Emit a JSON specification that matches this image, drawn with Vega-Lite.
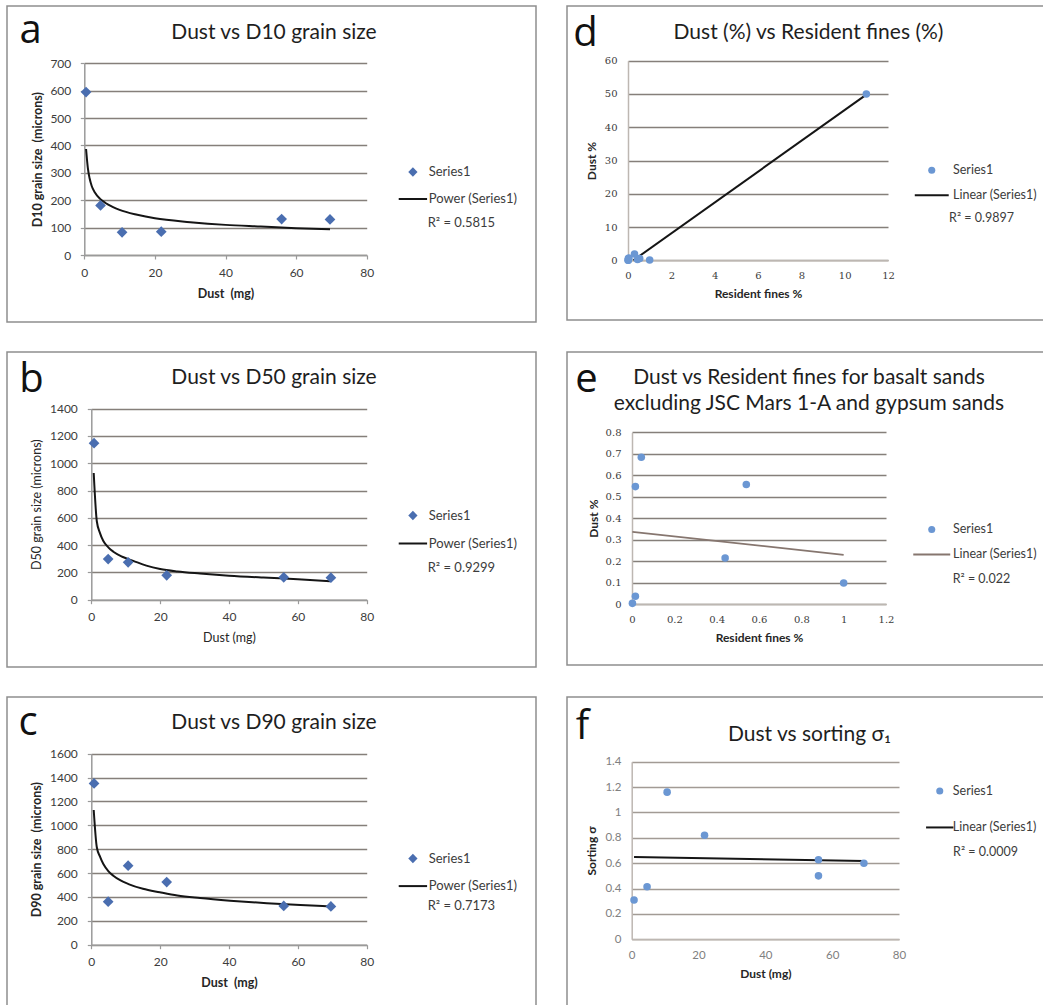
{
"$schema": "https://vega.github.io/schema/vega-lite/v6.json",
"background": "white",
"padding": {"left": 6, "top": 5, "right": 0, "bottom": 0},
"config": {
 "font": "Lato",
 "view": {"stroke": "#8e8e8e", "strokeWidth": 1.5},
 "title": {"font": "Lato", "fontSize": 21, "fontWeight": "normal", "color": "#1e1e1e", "anchor": "middle", "frame": "group", "baseline": "alphabetic"},
 "axis": {"labelFont": "Lato", "labelFontSize": 12, "labelColor": "#3c3c3c", "titleFont": "Lato", "titleFontSize": 12.5, "titleFontWeight": "bold", "titleColor": "#262626", "domainColor": "#9a9a9a", "domainWidth": 1.5, "tickColor": "#9a9a9a", "tickWidth": 1.2, "gridColor": "#857f7a", "gridWidth": 1.6, "gridOpacity": 1, "labelFlush": false, "labelOverlap": false},
 "legend": {"labelFont": "Lato", "labelFontSize": 13, "labelColor": "#3c3c3c", "titleFont": "Lato", "titleFontSize": 13, "titleFontWeight": "normal", "titleColor": "#3c3c3c", "symbolStrokeWidth": 2, "symbolOpacity": 1, "labelLimit": 220, "titleLimit": 220}
},
"spacing": 29,
"resolve": {"scale": {"shape": "independent", "fill": "independent", "stroke": "independent"}, "legend": {"shape": "independent", "fill": "independent", "stroke": "independent"}},
"hconcat": [
{"vconcat": [
 {
  "width": 529, "height": 316,
  "title": {"text": "Dust vs D10 grain size", "offset": -37.2, "dx": 2.5},
  "layer": [
   {"data": {"values": [{"dust":0.5,"size":387},{"dust":1,"size":318},{"dust":1.5,"size":280},{"dust":2.1,"size":252},{"dust":3,"size":228},{"dust":4.4,"size":206},{"dust":6,"size":190},{"dust":8,"size":176},{"dust":10,"size":165},{"dust":15,"size":147},{"dust":20,"size":134},{"dust":30,"size":120},{"dust":40,"size":110},{"dust":50,"size":104},{"dust":60,"size":98},{"dust":69.6,"size":94}]},
    "mark": {"type": "line", "color": "#151515", "strokeWidth": 2, "interpolate": "monotone"},
    "encoding": {
     "x": {"field": "dust", "type": "quantitative", "scale": {"domain": [0, 80], "range": [77.3, 359.7], "nice": false, "zero": false},
       "axis": {"orient": "bottom", "offset": -67, "values": [0,20,40,60,80], "title": "Dust\u00a0 (mg)", "grid": false, "tickSize": 4, "labelPadding": 8, "titlePadding": 9}},
     "y": {"field": "size", "type": "quantitative", "scale": {"domain": [0, 700], "range": [249, 57.3], "nice": false, "zero": false},
       "axis": {"orient": "left", "offset": -77.3, "values": [0,100,200,300,400,500,600,700], "format": "d", "title": "D10 grain size\u00a0 (microns)", "grid": true, "tickSize": 4, "labelPadding": 9.5, "titlePadding": 5}}
    }},
   {"data": {"values": [{"dust":0.5,"size":595,"series":"Series1"},{"dust":4.6,"size":181,"series":"Series1"},{"dust":10.7,"size":83,"series":"Series1"},{"dust":21.8,"size":85,"series":"Series1"},{"dust":55.9,"size":131,"series":"Series1"},{"dust":69.6,"size":130,"series":"Series1"}]},
    "mark": {"type": "point", "filled": true, "size": 115, "opacity": 1},
    "encoding": {
     "x": {"field": "dust", "type": "quantitative", "axis": {"orient": "top", "title": "a", "domain": false, "ticks": false, "labels": false, "grid": false, "titleX": 23, "titleY": 36, "titleFont": "Open Sans", "titleFontSize": 40, "titleFontWeight": "normal", "titleColor": "#111111", "titleAlign": "center", "titleBaseline": "alphabetic", "titleAngle": 0}},
     "y": {"field": "size", "type": "quantitative",
       "axis": {"orient": "left", "offset": -77.3, "values": [0,100,200,300,400,500,600,700], "format": "d", "title": "D10 grain size\u00a0 (microns)", "grid": true, "tickSize": 4, "labelPadding": 9.5, "titlePadding": 5}},
     "shape": {"field": "series", "type": "nominal", "scale": {"domain": ["Series1", "Power (Series1)"], "range": ["diamond", "M-3.06,0L3.06,0"]},
       "legend": {"orient": "none", "legendX": 399.4, "legendY": 159.5, "title": "R² = 0.5815", "titleOrient": "bottom", "titleAnchor": "middle", "titlePadding": 10, "rowPadding": 11, "symbolSize": 86, "labelOffset": 9.3}},
     "fill": {"field": "series", "type": "nominal", "scale": {"domain": ["Series1", "Power (Series1)"], "range": ["#4a6eb0", "transparent"]},
       "legend": {"orient": "none", "legendX": 399.4, "legendY": 159.5, "title": "R² = 0.5815", "titleOrient": "bottom", "titleAnchor": "middle", "titlePadding": 10, "rowPadding": 11, "symbolSize": 86, "labelOffset": 9.3}},
     "stroke": {"field": "series", "type": "nominal", "scale": {"domain": ["Series1", "Power (Series1)"], "range": ["transparent", "#151515"]},
       "legend": {"orient": "none", "legendX": 399.4, "legendY": 159.5, "title": "R² = 0.5815", "titleOrient": "bottom", "titleAnchor": "middle", "titlePadding": 10, "rowPadding": 11, "symbolSize": 86, "labelOffset": 9.3}}
    }}
  ]
 },
 {
  "width": 529, "height": 315,
  "title": {"text": "Dust vs D50 grain size", "offset": -35.5, "dx": 2.5},
  "layer": [
   {"data": {"values": [{"dust":0.7,"size":929},{"dust":1.6,"size":575},{"dust":2.5,"size":490},{"dust":3.5,"size":430},{"dust":5,"size":382},{"dust":6.4,"size":352},{"dust":9,"size":315},{"dust":12.2,"size":285},{"dust":16,"size":250},{"dust":20,"size":225},{"dust":25,"size":207},{"dust":31.6,"size":192},{"dust":40,"size":176},{"dust":50,"size":162},{"dust":60,"size":150},{"dust":69.4,"size":136}]},
    "mark": {"type": "line", "color": "#151515", "strokeWidth": 2, "interpolate": "monotone"},
    "encoding": {
     "x": {"field": "dust", "type": "quantitative", "scale": {"domain": [0, 80], "range": [84.3, 359.7], "nice": false, "zero": false},
       "axis": {"orient": "bottom", "offset": -67.3, "values": [0,20,40,60,80], "title": "Dust (mg)", "titleFontWeight": "normal", "grid": false, "tickSize": 4, "labelPadding": 8, "titlePadding": 9}},
     "y": {"field": "size", "type": "quantitative", "scale": {"domain": [0, 1400], "range": [247.7, 56.7], "nice": false, "zero": false},
       "axis": {"orient": "left", "offset": -84.3, "values": [0,200,400,600,800,1000,1200,1400], "format": "d", "title": "D50 grain size (microns)", "titleFontWeight": "normal", "grid": true, "tickSize": 4, "labelPadding": 10, "titlePadding": 6}}
    }},
   {"data": {"values": [{"dust":0.8,"size":1147,"series":"Series1"},{"dust":4.9,"size":298,"series":"Series1"},{"dust":10.7,"size":274,"series":"Series1"},{"dust":21.9,"size":179,"series":"Series1"},{"dust":55.9,"size":164,"series":"Series1"},{"dust":69.6,"size":161,"series":"Series1"}]},
    "mark": {"type": "point", "filled": true, "size": 115, "opacity": 1},
    "encoding": {
     "x": {"field": "dust", "type": "quantitative", "axis": {"orient": "top", "title": "b", "domain": false, "ticks": false, "labels": false, "grid": false, "titleX": 24, "titleY": 39, "titleFont": "Open Sans", "titleFontSize": 40, "titleFontWeight": "normal", "titleColor": "#111111", "titleAlign": "center", "titleBaseline": "alphabetic", "titleAngle": 0}},
     "y": {"field": "size", "type": "quantitative",
       "axis": {"orient": "left", "offset": -84.3, "values": [0,200,400,600,800,1000,1200,1400], "format": "d", "title": "D50 grain size (microns)", "titleFontWeight": "normal", "grid": true, "tickSize": 4, "labelPadding": 10, "titlePadding": 6}},
     "shape": {"field": "series", "type": "nominal", "scale": {"domain": ["Series1", "Power (Series1)"], "range": ["diamond", "M-3.06,0L3.06,0"]},
       "legend": {"orient": "none", "legendX": 399.4, "legendY": 157, "title": "R² = 0.9299", "titleOrient": "bottom", "titleAnchor": "middle", "titlePadding": 11.4, "rowPadding": 12, "symbolSize": 86, "labelOffset": 9.3}},
     "fill": {"field": "series", "type": "nominal", "scale": {"domain": ["Series1", "Power (Series1)"], "range": ["#4a6eb0", "transparent"]},
       "legend": {"orient": "none", "legendX": 399.4, "legendY": 157, "title": "R² = 0.9299", "titleOrient": "bottom", "titleAnchor": "middle", "titlePadding": 11.4, "rowPadding": 12, "symbolSize": 86, "labelOffset": 9.3}},
     "stroke": {"field": "series", "type": "nominal", "scale": {"domain": ["Series1", "Power (Series1)"], "range": ["transparent", "#151515"]},
       "legend": {"orient": "none", "legendX": 399.4, "legendY": 157, "title": "R² = 0.9299", "titleOrient": "bottom", "titleAnchor": "middle", "titlePadding": 11.4, "rowPadding": 12, "symbolSize": 86, "labelOffset": 9.3}}
    }}
  ]
 },
 {
  "width": 529, "height": 311,
  "title": {"text": "Dust vs D90 grain size", "offset": -36.2, "dx": 2.5},
  "layer": [
   {"data": {"values": [{"dust":0.7,"size":1128},{"dust":1.6,"size":816},{"dust":2.5,"size":740},{"dust":3.5,"size":676},{"dust":5,"size":615},{"dust":6.4,"size":578},{"dust":8.5,"size":538},{"dust":10.8,"size":508},{"dust":15,"size":468},{"dust":19.9,"size":439},{"dust":25,"size":412},{"dust":31.6,"size":391},{"dust":40.3,"size":369},{"dust":51,"size":347},{"dust":60.7,"size":332},{"dust":69.4,"size":321}]},
    "mark": {"type": "line", "color": "#151515", "strokeWidth": 2, "interpolate": "monotone"},
    "encoding": {
     "x": {"field": "dust", "type": "quantitative", "scale": {"domain": [0, 80], "range": [84.3, 359.7], "nice": false, "zero": false},
       "axis": {"orient": "bottom", "offset": -63.3, "values": [0,20,40,60,80], "title": "Dust\u00a0 (mg)", "grid": false, "tickSize": 4, "labelPadding": 8, "titlePadding": 9}},
     "y": {"field": "size", "type": "quantitative", "scale": {"domain": [0, 1600], "range": [247.7, 56.7], "nice": false, "zero": false},
       "axis": {"orient": "left", "offset": -84.3, "values": [0,200,400,600,800,1000,1200,1400,1600], "format": "d", "title": "D90 grain size\u00a0 (microns)", "grid": true, "tickSize": 4, "labelPadding": 10, "titlePadding": 6}}
    }},
   {"data": {"values": [{"dust":0.8,"size":1351,"series":"Series1"},{"dust":4.9,"size":360,"series":"Series1"},{"dust":10.7,"size":662,"series":"Series1"},{"dust":21.9,"size":525,"series":"Series1"},{"dust":55.9,"size":325,"series":"Series1"},{"dust":69.6,"size":321,"series":"Series1"}]},
    "mark": {"type": "point", "filled": true, "size": 115, "opacity": 1},
    "encoding": {
     "x": {"field": "dust", "type": "quantitative", "axis": {"orient": "top", "title": "c", "domain": false, "ticks": false, "labels": false, "grid": false, "titleX": 20.5, "titleY": 37, "titleFont": "Open Sans", "titleFontSize": 40, "titleFontWeight": "normal", "titleColor": "#111111", "titleAlign": "center", "titleBaseline": "alphabetic", "titleAngle": 0}},
     "y": {"field": "size", "type": "quantitative",
       "axis": {"orient": "left", "offset": -84.3, "values": [0,200,400,600,800,1000,1200,1400,1600], "format": "d", "title": "D90 grain size\u00a0 (microns)", "grid": true, "tickSize": 4, "labelPadding": 10, "titlePadding": 6}},
     "shape": {"field": "series", "type": "nominal", "scale": {"domain": ["Series1", "Power (Series1)"], "range": ["diamond", "M-3.06,0L3.06,0"]},
       "legend": {"orient": "none", "legendX": 399.4, "legendY": 155, "title": "R² = 0.7173", "titleOrient": "bottom", "titleAnchor": "middle", "titlePadding": 7, "rowPadding": 11.6, "symbolSize": 86, "labelOffset": 9.3}},
     "fill": {"field": "series", "type": "nominal", "scale": {"domain": ["Series1", "Power (Series1)"], "range": ["#4a6eb0", "transparent"]},
       "legend": {"orient": "none", "legendX": 399.4, "legendY": 155, "title": "R² = 0.7173", "titleOrient": "bottom", "titleAnchor": "middle", "titlePadding": 7, "rowPadding": 11.6, "symbolSize": 86, "labelOffset": 9.3}},
     "stroke": {"field": "series", "type": "nominal", "scale": {"domain": ["Series1", "Power (Series1)"], "range": ["transparent", "#151515"]},
       "legend": {"orient": "none", "legendX": 399.4, "legendY": 155, "title": "R² = 0.7173", "titleOrient": "bottom", "titleAnchor": "middle", "titlePadding": 7, "rowPadding": 11.6, "symbolSize": 86, "labelOffset": 9.3}}
    }}
  ]
 }
], "spacing": 28, "resolve": {"scale": {"shape": "independent", "fill": "independent", "stroke": "independent"}, "legend": {"shape": "independent", "fill": "independent", "stroke": "independent"}}},
{"vconcat": [
 {
  "width": 477, "height": 314,
  "title": {"text": "Dust (%) vs Resident fines (%)", "offset": -37.2, "dx": 3},
  "layer": [
   {"data": {"values": [{"fines":0.25,"dustpct":0},{"fines":11,"dustpct":49.8}]},
    "mark": {"type": "line", "color": "#151515", "strokeWidth": 2},
    "encoding": {
     "x": {"field": "fines", "type": "quantitative", "scale": {"domain": [0, 12], "range": [61, 321], "nice": false, "zero": false},
       "axis": {"orient": "bottom", "offset": -59.7, "values": [0,2,4,6,8,10,12], "title": "Resident fines %", "titleFontSize": 12, "grid": false, "ticks": false, "labelPadding": 10, "titlePadding": 8, "labelFont": "DejaVu Serif", "labelFontSize": 10, "domainColor": "#bdb7b2"}},
     "y": {"field": "dustpct", "type": "quantitative", "scale": {"domain": [0, 60], "range": [254.3, 54.7], "nice": false, "zero": false},
       "axis": {"orient": "left", "offset": -61, "values": [0,10,20,30,40,50,60], "title": "Dust %", "titleFontSize": 12, "grid": true, "ticks": false, "labelPadding": 11, "titlePadding": 6, "labelFont": "DejaVu Serif", "labelFontSize": 10, "domainColor": "#bdb7b2"}}
    }},
   {"data": {"values": [{"fines":0.002,"dustpct":0.003,"series":"Series1"},{"fines":0.016,"dustpct":0.036,"series":"Series1"},{"fines":0.016,"dustpct":0.547,"series":"Series1"},{"fines":0.044,"dustpct":0.684,"series":"Series1"},{"fines":0.44,"dustpct":0.214,"series":"Series1"},{"fines":0.54,"dustpct":0.557,"series":"Series1"},{"fines":1.0,"dustpct":0.098,"series":"Series1"},{"fines":0.3,"dustpct":1.9,"series":"Series1"},{"fines":11.0,"dustpct":50.0,"series":"Series1"}]},
    "mark": {"type": "point", "filled": true, "size": 57, "opacity": 1},
    "encoding": {
     "x": {"field": "fines", "type": "quantitative", "axis": {"orient": "top", "title": "d", "domain": false, "ticks": false, "labels": false, "grid": false, "titleX": 18, "titleY": 39.7, "titleFont": "Open Sans", "titleFontSize": 40, "titleFontWeight": "normal", "titleColor": "#111111", "titleAlign": "center", "titleBaseline": "alphabetic", "titleAngle": 0}},
     "y": {"field": "dustpct", "type": "quantitative",
       "axis": {"orient": "left", "offset": -61, "values": [0,10,20,30,40,50,60], "title": "Dust %", "titleFontSize": 12, "grid": true, "ticks": false, "labelPadding": 11, "titlePadding": 6, "labelFont": "DejaVu Serif", "labelFontSize": 10, "domainColor": "#bdb7b2"}},
     "shape": {"field": "series", "type": "nominal", "scale": {"domain": ["Series1", "Linear (Series1)"], "range": ["circle", "M-4.8,0L4.8,0"]},
       "legend": {"orient": "none", "legendX": 358.5, "legendY": 158, "title": "R² = 0.9897", "titleOrient": "bottom", "titleAnchor": "middle", "titlePadding": 10, "rowPadding": 11, "symbolSize": 50, "labelOffset": 15, "labelFontSize": 12.5, "titleFontSize": 12.5}},
     "fill": {"field": "series", "type": "nominal", "scale": {"domain": ["Series1", "Linear (Series1)"], "range": ["#6b97d3", "transparent"]},
       "legend": {"orient": "none", "legendX": 358.5, "legendY": 158, "title": "R² = 0.9897", "titleOrient": "bottom", "titleAnchor": "middle", "titlePadding": 10, "rowPadding": 11, "symbolSize": 50, "labelOffset": 15, "labelFontSize": 12.5, "titleFontSize": 12.5}},
     "stroke": {"field": "series", "type": "nominal", "scale": {"domain": ["Series1", "Linear (Series1)"], "range": ["transparent", "#151515"]},
       "legend": {"orient": "none", "legendX": 358.5, "legendY": 158, "title": "R² = 0.9897", "titleOrient": "bottom", "titleAnchor": "middle", "titlePadding": 10, "rowPadding": 11, "symbolSize": 50, "labelOffset": 15, "labelFontSize": 12.5, "titleFontSize": 12.5}}
    }}
  ]
 },
 {
  "width": 477, "height": 313,
  "title": {"text": ["Dust vs Resident fines for basalt sands", "excluding JSC Mars 1-A and gypsum sands"], "offset": -61.9, "dx": 3.5, "lineHeight": 26},
  "layer": [
   {"data": {"values": [{"fines":0.002,"dustpct":0.336},{"fines":1.0,"dustpct":0.229}]},
    "mark": {"type": "line", "color": "#86766f", "strokeWidth": 1.7},
    "encoding": {
     "x": {"field": "fines", "type": "quantitative", "scale": {"domain": [0, 1.2], "range": [65, 319], "nice": false, "zero": false},
       "axis": {"orient": "bottom", "offset": -61, "values": [0,0.2,0.4,0.6,0.8,1,1.2], "labelExpr": "'' + datum.value", "title": "Resident fines %", "titleFontSize": 12, "grid": false, "ticks": false, "labelPadding": 10, "titlePadding": 8, "labelFont": "DejaVu Serif", "labelFontSize": 10, "domainColor": "#bdb7b2"}},
     "y": {"field": "dustpct", "type": "quantitative", "scale": {"domain": [0, 0.8], "range": [252, 80.3], "nice": false, "zero": false},
       "axis": {"orient": "left", "offset": -65, "values": [0,0.1,0.2,0.3,0.4,0.5,0.6,0.7,0.8], "labelExpr": "'' + datum.value", "title": "Dust %", "titleFontSize": 12, "grid": true, "ticks": false, "labelPadding": 11, "titlePadding": 5, "labelFont": "DejaVu Serif", "labelFontSize": 10, "domainColor": "#bdb7b2"}}
    }},
   {"data": {"values": [{"fines":0.002,"dustpct":0.003,"series":"Series1"},{"fines":0.016,"dustpct":0.036,"series":"Series1"},{"fines":0.016,"dustpct":0.547,"series":"Series1"},{"fines":0.044,"dustpct":0.684,"series":"Series1"},{"fines":0.44,"dustpct":0.214,"series":"Series1"},{"fines":0.54,"dustpct":0.557,"series":"Series1"},{"fines":1.0,"dustpct":0.098,"series":"Series1"}]},
    "mark": {"type": "point", "filled": true, "size": 57, "opacity": 1},
    "encoding": {
     "x": {"field": "fines", "type": "quantitative", "axis": {"orient": "top", "title": "e", "domain": false, "ticks": false, "labels": false, "grid": false, "titleX": 19, "titleY": 39, "titleFont": "Open Sans", "titleFontSize": 40, "titleFontWeight": "normal", "titleColor": "#111111", "titleAlign": "center", "titleBaseline": "alphabetic", "titleAngle": 0}},
     "y": {"field": "dustpct", "type": "quantitative",
       "axis": {"orient": "left", "offset": -65, "values": [0,0.1,0.2,0.3,0.4,0.5,0.6,0.7,0.8], "labelExpr": "'' + datum.value", "title": "Dust %", "titleFontSize": 12, "grid": true, "ticks": false, "labelPadding": 11, "titlePadding": 5, "labelFont": "DejaVu Serif", "labelFontSize": 10, "domainColor": "#bdb7b2"}},
     "shape": {"field": "series", "type": "nominal", "scale": {"domain": ["Series1", "Linear (Series1)"], "range": ["circle", "M-5.23,0L5.23,0"]},
       "legend": {"orient": "none", "legendX": 358.5, "legendY": 171.2, "title": "R² = 0.022", "titleOrient": "bottom", "titleAnchor": "middle", "titlePadding": 12, "rowPadding": 11, "symbolSize": 50, "labelOffset": 15, "labelFontSize": 12.5, "titleFontSize": 12.5}},
     "fill": {"field": "series", "type": "nominal", "scale": {"domain": ["Series1", "Linear (Series1)"], "range": ["#6b97d3", "transparent"]},
       "legend": {"orient": "none", "legendX": 358.5, "legendY": 171.2, "title": "R² = 0.022", "titleOrient": "bottom", "titleAnchor": "middle", "titlePadding": 12, "rowPadding": 11, "symbolSize": 50, "labelOffset": 15, "labelFontSize": 12.5, "titleFontSize": 12.5}},
     "stroke": {"field": "series", "type": "nominal", "scale": {"domain": ["Series1", "Linear (Series1)"], "range": ["transparent", "#86766f"]},
       "legend": {"orient": "none", "legendX": 358.5, "legendY": 171.2, "title": "R² = 0.022", "titleOrient": "bottom", "titleAnchor": "middle", "titlePadding": 12, "rowPadding": 11, "symbolSize": 50, "labelOffset": 15, "labelFontSize": 12.5, "titleFontSize": 12.5}}
    }}
  ]
 },
 {
  "width": 477, "height": 311,
  "title": {"text": "Dust vs sorting σ₁", "offset": -47.9, "dx": 4},
  "layer": [
   {"data": {"values": [{"dust":0.7,"sorting":0.648},{"dust":69.5,"sorting":0.617}]},
    "mark": {"type": "line", "color": "#151515", "strokeWidth": 2},
    "encoding": {
     "x": {"field": "dust", "type": "quantitative", "scale": {"domain": [0, 80], "range": [64.7, 332], "nice": false, "zero": false},
       "axis": {"orient": "bottom", "offset": -68.7, "values": [0,20,40,60,80], "title": "Dust (mg)", "titleFontSize": 12, "grid": false, "ticks": false, "labelPadding": 10, "titlePadding": 8, "labelFontSize": 11.5, "labelColor": "#808080", "domainColor": "#bdb7b2"}},
     "y": {"field": "sorting", "type": "quantitative", "scale": {"domain": [0, 1.4], "range": [242.3, 64.7], "nice": false, "zero": false},
       "axis": {"orient": "left", "offset": -64.7, "values": [0,0.2,0.4,0.6,0.8,1,1.2,1.4], "labelExpr": "'' + datum.value", "title": "Sorting σ", "titleFontSize": 12, "grid": true, "gridColor": "#a29b95", "ticks": false, "labelPadding": 10.7, "titlePadding": 6, "labelFontSize": 11.5, "labelColor": "#808080", "domainColor": "#bdb7b2"}}
    }},
   {"data": {"values": [{"dust":0.7,"sorting":0.31,"series":"Series1"},{"dust":4.6,"sorting":0.415,"series":"Series1"},{"dust":10.6,"sorting":1.16,"series":"Series1"},{"dust":21.8,"sorting":0.82,"series":"Series1"},{"dust":55.9,"sorting":0.627,"series":"Series1"},{"dust":55.9,"sorting":0.5,"series":"Series1"},{"dust":69.5,"sorting":0.6,"series":"Series1"}]},
    "mark": {"type": "point", "filled": true, "size": 57, "opacity": 1},
    "encoding": {
     "x": {"field": "dust", "type": "quantitative", "axis": {"orient": "top", "title": "f", "domain": false, "ticks": false, "labels": false, "grid": false, "titleX": 15, "titleY": 41, "titleFont": "Open Sans", "titleFontSize": 40, "titleFontWeight": "normal", "titleColor": "#111111", "titleAlign": "center", "titleBaseline": "alphabetic", "titleAngle": 0}},
     "y": {"field": "sorting", "type": "quantitative",
       "axis": {"orient": "left", "offset": -64.7, "values": [0,0.2,0.4,0.6,0.8,1,1.2,1.4], "labelExpr": "'' + datum.value", "title": "Sorting σ", "titleFontSize": 12, "grid": true, "gridColor": "#a29b95", "ticks": false, "labelPadding": 10.7, "titlePadding": 6, "labelFontSize": 11.5, "labelColor": "#808080", "domainColor": "#bdb7b2"}},
     "shape": {"field": "series", "type": "nominal", "scale": {"domain": ["Series1", "Linear (Series1)"], "range": ["circle", "M-3.87,0L3.87,0"]},
       "legend": {"orient": "none", "legendX": 366.5, "legendY": 87.8, "title": "R² = 0.0009", "titleOrient": "bottom", "titleAnchor": "middle", "titlePadding": 12, "rowPadding": 22.4, "symbolSize": 50, "labelOffset": 6.8, "labelFontSize": 12.5, "titleFontSize": 12.5}},
     "fill": {"field": "series", "type": "nominal", "scale": {"domain": ["Series1", "Linear (Series1)"], "range": ["#6b97d3", "transparent"]},
       "legend": {"orient": "none", "legendX": 366.5, "legendY": 87.8, "title": "R² = 0.0009", "titleOrient": "bottom", "titleAnchor": "middle", "titlePadding": 12, "rowPadding": 22.4, "symbolSize": 50, "labelOffset": 6.8, "labelFontSize": 12.5, "titleFontSize": 12.5}},
     "stroke": {"field": "series", "type": "nominal", "scale": {"domain": ["Series1", "Linear (Series1)"], "range": ["transparent", "#151515"]},
       "legend": {"orient": "none", "legendX": 366.5, "legendY": 87.8, "title": "R² = 0.0009", "titleOrient": "bottom", "titleAnchor": "middle", "titlePadding": 12, "rowPadding": 22.4, "symbolSize": 50, "labelOffset": 6.8, "labelFontSize": 12.5, "titleFontSize": 12.5}}
    }}
  ]
 }
], "spacing": 30, "resolve": {"scale": {"shape": "independent", "fill": "independent", "stroke": "independent"}, "legend": {"shape": "independent", "fill": "independent", "stroke": "independent"}}}
]
}
